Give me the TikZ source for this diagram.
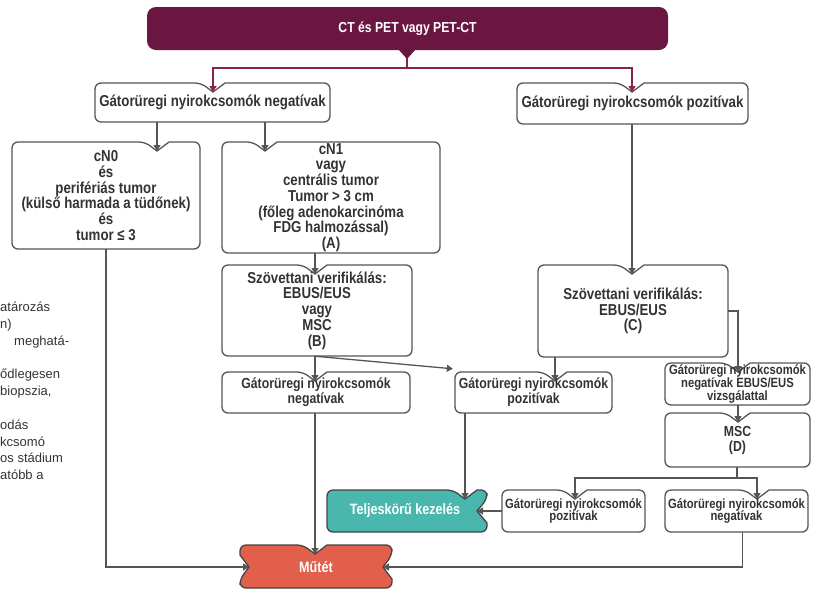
\documentclass[tikz,border=0pt]{standalone}
\usepackage{fontspec}
\setmainfont{Liberation Sans}
\newfontfamily\nar{Liberation Sans}[FakeStretch=0.84]
\usetikzlibrary{arrows.meta}

\definecolor{maroonfill}{HTML}{6B1640}
\definecolor{maroonline}{HTML}{8A2442}
\definecolor{tealfill}{HTML}{49B7AD}
\definecolor{redfill}{HTML}{E2604B}
\definecolor{linegray}{HTML}{555555}
\definecolor{txtgray}{HTML}{333333}

\tikzset{
  boxline/.style={draw=linegray, line width=1.3pt, fill=white},
  colbox/.style={draw=linegray!80!black, line width=1.3pt},
  txt/.style={text=txtgray, align=center, inner sep=0pt,
    font=\nar\bfseries\fontsize{15.8}{15.7}\selectfont},
  midtxt/.style={font=\nar\bfseries\fontsize{14.6}{15}\selectfont},
  smalltxt/.style={font=\nar\bfseries\fontsize{13.4}{12.8}\selectfont},
  coltxt/.style={text=white, align=center, inner sep=0pt,
    font=\nar\bfseries\fontsize{15}{16}\selectfont},
  topbox/.style={fill=maroonfill, rounded corners=9pt, inner sep=0pt,
    minimum width=521pt, minimum height=43pt, text=white,
    font=\nar\bfseries\fontsize{14.5}{16}\selectfont},
  sidetxt/.style={text=txtgray, align=left, inner sep=0pt,
    font=\fontsize{13}{16.8}\selectfont},
  conn/.style={draw=linegray, line width=1.3pt, -{Triangle[length=6pt,width=7pt]}},
  plainline/.style={draw=linegray, line width=1.3pt},
  mline/.style={draw=maroonline, line width=1.3pt},
  marr/.style={mline, -{Triangle[length=6pt,width=7pt]}},
}

% white box with rounded corners and an entry notch in its top edge
% #1 name, #2-#5 corners, #6 notch x, #7 text, #8 extra node options
\newcommand\nbox[8]{%
  \draw[boxline] ({#6+12},#3) [rounded corners=6pt] -- (#4,#3) -- (#4,#5)
    -- (#2,#5) -- (#2,#3) -- ({#6-12},#3) [sharp corners] -- (#6,{#3+9}) -- cycle;
  \node[txt, minimum width={#4-#2}, minimum height={#5-#3}, #8] (#1)
    at ({(#2+#4)/2},{(#3+#5)/2}) {#7};
  \coordinate (#1-in) at (#6,{#3+9});
}

\begin{document}
\begin{tikzpicture}[x=1pt,y=-1pt]
\useasboundingbox (0,0) rectangle (813,590);

% text running in from the page edge
\node[sidetxt, anchor=north west] (sidetext) at (0,302)
  {atározás\\n)\\\hspace*{14pt}meghatá-\\\mbox{}\\ődlegesen\\biopszia,\\\mbox{}\\odás\\kcsomó\\os stádium\\atóbb a};

% header
\node[topbox] (top) at (407.5,28.5) {CT és PET vagy PET-CT};
\fill[maroonfill] (398,49) -- (407,59) -- (416,49) -- cycle;
\coordinate (tip) at (407,58);
\coordinate (split) at (407,68);

% boxes
\nbox{negL}{95}{83}{330}{122}{213}{Gátorüregi nyirokcsomók negatívak}{}
\nbox{posR}{517}{83}{748}{124}{632}{Gátorüregi nyirokcsomók pozitívak}{}
\nbox{cN0}{12}{142}{200}{249}{157}{cN0\\és\\perifériás tumor\\(külső harmada a tüdőnek)\\és\\tumor ≤ 3}{}
\nbox{cN1}{222}{142}{440}{253}{265}{cN1\\vagy\\centrális tumor\\Tumor > 3 cm\\(főleg adenokarcinóma\\FDG halmozással)\\(A)}{}
\nbox{B}{222}{265}{412}{356}{315}{Szövettani verifikálás:\\EBUS/EUS\\vagy\\MSC\\(B)}{}
\nbox{C}{538}{265}{728}{357}{632}{Szövettani verifikálás:\\EBUS/EUS\\(C)}{}
\nbox{negB}{222}{372}{410}{413}{315}{Gátorüregi nyirokcsomók\\negatívak}{midtxt}
\nbox{posB}{455}{372}{612}{413}{555}{Gátorüregi nyirokcsomók\\pozitívak}{midtxt}
\nbox{negE}{665}{363}{810}{405}{738}{Gátorüregi nyirokcsomók\\negatívak EBUS/EUS\\vizsgálattal}{smalltxt}
\nbox{MSC}{665}{413}{810}{467}{738}{MSC\\(D)}{midtxt}
\nbox{pos2}{502}{490}{645}{532}{575}{Gátorüregi nyirokcsomók\\pozitívak}{smalltxt}
\nbox{neg2}{665}{490}{808}{532}{757}{Gátorüregi nyirokcsomók\\negatívak}{smalltxt}

% full treatment box: notch on top and on the right
\draw[colbox, fill=tealfill] (477,490) [rounded corners=6pt] -- (487,490) -- (487,499)
  [sharp corners] -- (477,511) -- (487,523) [rounded corners=6pt] -- (487,532)
  -- (327,532) -- (327,490) -- (453,490) [sharp corners] -- (465,499) -- cycle;
\node[coltxt, minimum width=160pt, minimum height=42pt] (telj) at (405,511) {Teljeskörű kezelés};
\coordinate (telj-in) at (465,499);
\coordinate (telj-rin) at (477,511);

% surgery box: notches on top, left and right
\draw[colbox, fill=redfill] (327,545) [rounded corners=6pt] -- (392,545) -- (392,555)
  [sharp corners] -- (383,567) -- (392,579) [rounded corners=6pt] -- (392,588)
  -- (240,588) -- (240,579) [sharp corners] -- (249,567) -- (240,555)
  [rounded corners=6pt] -- (240,545) -- (303,545) [sharp corners] -- (315,554) -- cycle;
\node[coltxt, minimum width=152pt, minimum height=43pt] (mutet) at (316,567) {Műtét};
\coordinate (mutet-in) at (315,554);
\coordinate (mutet-lin) at (249,567);
\coordinate (mutet-rin) at (383,567);

% header connectors
\draw[mline] (tip) -- (split);
\draw[marr] (split) -| (negL-in);
\draw[marr] (split) -| (posR-in);

% connectors
\draw[conn] (negL.south -| cN0-in) -- (cN0-in);
\draw[conn] (negL.south -| cN1-in) -- (cN1-in);
\draw[conn] (cN1.south -| B-in) -- (B-in);
\draw[conn] (posR.south -| C-in) -- (C-in);
\draw[conn] (B.south -| negB-in) -- (negB-in);
\draw[conn] (B.south -| negB-in) -- ([xshift=-2pt,yshift=3pt]posB.north west);
\draw[conn] (C.south -| posB-in) -- (posB-in);
\draw[conn] (C.east) -| (negE-in);
\draw[conn] (negE.south -| MSC-in) -- (MSC-in);
\coordinate (fork) at (737,478);
\draw[plainline] (MSC.south -| fork) -- (fork);
\draw[conn] (fork) -| (pos2-in);
\draw[conn] (fork) -| (neg2-in);
\draw[conn] (pos2.west) -- (telj-rin);
\draw[conn] (posB.south -| telj-in) -- (telj-in);
\draw[conn] (negB.south -| mutet-in) -- (mutet-in);
\draw[conn] (cN0.south) |- (mutet-lin);
\draw[conn] ([xshift=6pt]neg2.south) |- (mutet-rin);
\end{tikzpicture}
\end{document}
